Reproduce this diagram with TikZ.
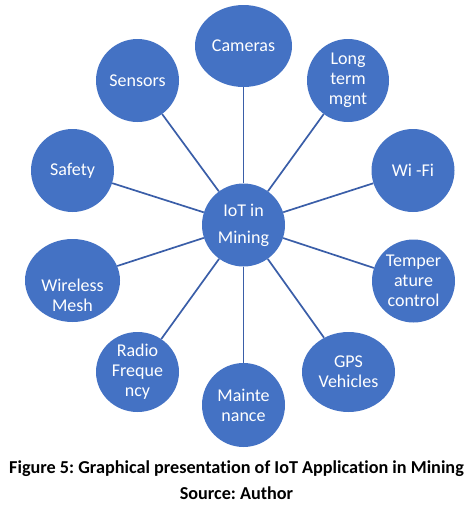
\documentclass[tikz,border=0pt]{standalone}
\usepackage{fontspec}
\setmainfont[Ligatures=NoCommon]{Carlito}
\frenchspacing
\usetikzlibrary{shapes.geometric}
\definecolor{nodefill}{HTML}{4472C4}
\definecolor{spoke}{HTML}{3A5EA8}
\tikzset{
  bub/.style={ellipse, fill=nodefill, draw=none, inner sep=0pt,
    minimum width=#1, text=white, align=center,
    font=\fontsize{18}{20}\selectfont},
  bub/.default=83pt,
  conn/.style={draw=spoke, line width=1.7pt},
  captext/.style={font=\fontsize{18.2}{22}\selectfont\bfseries, text=black, inner sep=0pt, anchor=base}
}
\begin{document}
\begin{tikzpicture}[x=1pt,y=-1pt]
\useasboundingbox (0,0) rectangle (473,515);
\node[bub, minimum height=83pt] (c) at (243.5,225) {IoT in\\[7pt]Mining};
\node[bub=97pt, minimum height=82pt] (cam) at (243.5,46) {Cameras};
\node[bub, minimum height=83pt] (sen) at (137.5,80.5) {Sensors};
\node[bub=82pt, minimum height=83pt] (ltm) at (348,80.5) {Long\\term\\mgnt};
\node[bub, minimum height=83pt] (saf) at (72.5,170.5) {Safety};
\node[bub, minimum height=83pt] (wifi) at (413,170.5) {Wi -Fi};
\node[bub=95pt, minimum height=83pt] (wm) at (72.5,280.5) {};
\node[bub, minimum height=83pt] (tc) at (413.5,281) {Temper\\ature\\control};
\node[bub=83pt, minimum height=80pt] (rf) at (137.5,372) {Radio\\Freque\\ncy};
\node[bub, minimum height=84pt] (mt) at (243.5,405) {Mainte\\nance};
\node[bub=93pt, minimum height=80pt] (gps) at (348.5,372) {GPS\\Vehicles};
\node[text=white, align=center, inner sep=0pt, font=\fontsize{18}{20}\selectfont] (wmt) at (72.5,295) {Wireless\\Mesh};
\foreach \n in {cam,sen,ltm,saf,wifi,wm,tc,rf,mt,gps}
  \draw[conn] (c) -- (\n);
\node[captext] (cap1) at (236.5,473) {Figure 5: Graphical presentation of IoT Application in Mining};
\node[captext] (cap2) at (236.5,499) {Source: Author};
\end{tikzpicture}
\end{document}
